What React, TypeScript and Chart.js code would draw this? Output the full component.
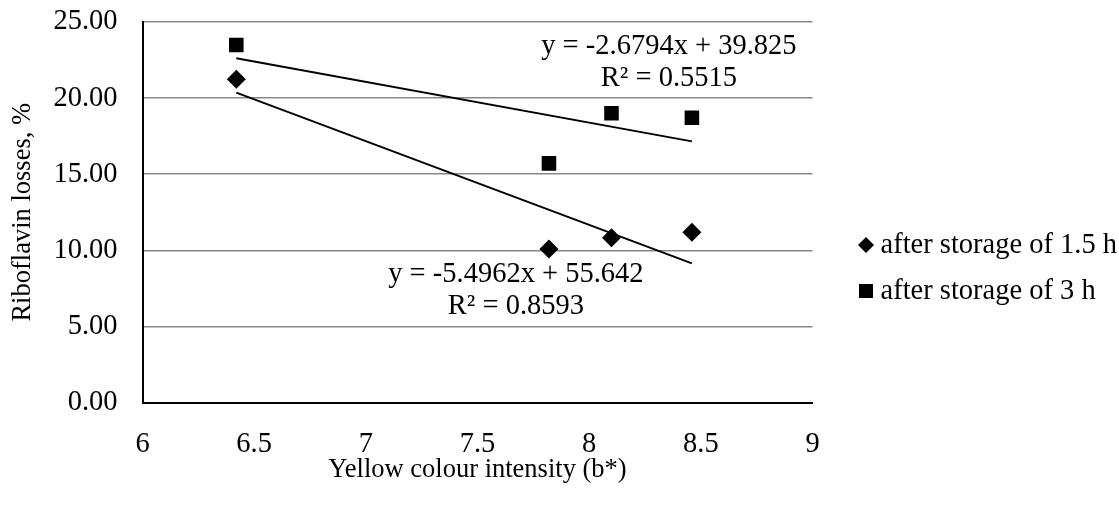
import React, { useEffect, useRef } from "react";
import { Chart, registerables } from "chart.js";

Chart.register(...registerables);

// ---- data ----
const colourIntensity = [6.42, 7.82, 8.1, 8.46];
const losses15h = [21.24, 10.08, 10.82, 11.18];
const losses3h = [23.49, 15.71, 19.0, 18.71];

const seriesNames = ["after storage of 1.5 h", "after storage of 3 h"];

// trendline coefficients (slope, intercept) as shown on the chart
const trendSlopes = [-5.4962, -2.6794];
const trendIntercepts = [55.642, 39.825];
const trendLabels = [
  ["y = -5.4962x + 55.642", "R² = 0.8593"],
  ["y = -2.6794x + 39.825", "R² = 0.5515"],
];
// label anchor (data coordinates)
const trendLabelX = [7.672, 8.357];
const trendLabelY = [8.38, 23.36];

const xTicks = [6, 6.5, 7, 7.5, 8, 8.5, 9];
const yTicks = [0, 5, 10, 15, 20, 25];

const FONT = "'Liberation Serif', 'Times New Roman', serif";
const FS = 28.5;
const FS_TITLE = 26.5;

function trendPoints(i: number) {
  const xmin = Math.min(...colourIntensity);
  const xmax = Math.max(...colourIntensity);
  return [
    { x: xmin, y: trendSlopes[i] * xmin + trendIntercepts[i] },
    { x: xmax, y: trendSlopes[i] * xmax + trendIntercepts[i] },
  ];
}

const annotationPlugin = {
  id: "trendAnnotations",
  afterDatasetsDraw(chart: any) {
    const ctx = chart.ctx;
    const xs = chart.scales.x;
    const ys = chart.scales.y;
    ctx.save();
    ctx.font = `${FS}px ${FONT}`;
    ctx.fillStyle = "#000";
    ctx.textAlign = "center";
    ctx.textBaseline = "middle";
    trendLabels.forEach((lines, i) => {
      const px = xs.getPixelForValue(trendLabelX[i]);
      const py = ys.getPixelForValue(trendLabelY[i]);
      lines.forEach((t, j) => ctx.fillText(t, px, py + j * 32));
    });
    ctx.restore();
  },
};

const legendPlugin = {
  id: "customLegend",
  afterDraw(chart: any) {
    const ctx = chart.ctx;
    const area = chart.chartArea;
    const mx = area.right + 53.5;
    const tx = area.right + 68;
    const y0 = area.top + 223;
    const gap = 46;
    ctx.save();
    ctx.fillStyle = "#000";
    // diamond
    const r = 8;
    ctx.beginPath();
    ctx.moveTo(mx, y0 - r);
    ctx.lineTo(mx + r, y0);
    ctx.lineTo(mx, y0 + r);
    ctx.lineTo(mx - r, y0);
    ctx.closePath();
    ctx.fill();
    // square
    const s = 7;
    ctx.fillRect(mx - s, y0 + gap - s, 2 * s, 2 * s);
    ctx.font = `${FS}px ${FONT}`;
    ctx.textAlign = "left";
    ctx.textBaseline = "middle";
    ctx.fillText(seriesNames[0], tx, y0 + 1);
    ctx.fillText(seriesNames[1], tx, y0 + gap + 1);
    ctx.restore();
  },
};

export default function App() {
  const ref = useRef<HTMLCanvasElement | null>(null);
  useEffect(() => {
    if (!ref.current) return;
    const chart = new Chart(ref.current, {
      type: "scatter",
      data: {
        datasets: [
          {
            label: seriesNames[0],
            data: colourIntensity.map((x, i) => ({ x, y: losses15h[i] })),
            pointStyle: "rectRot",
            pointRadius: 9.5,
            backgroundColor: "#000",
            borderColor: "#000",
            borderWidth: 0,
            order: 0,
          },
          {
            label: seriesNames[1],
            data: colourIntensity.map((x, i) => ({ x, y: losses3h[i] })),
            pointStyle: "rect",
            pointRadius: 10.3,
            backgroundColor: "#000",
            borderColor: "#000",
            borderWidth: 0,
            order: 0,
          },
          {
            type: "line",
            label: "trend 1.5 h",
            data: trendPoints(0),
            borderColor: "#000",
            borderWidth: 2,
            pointRadius: 0,
            showLine: true,
            fill: false,
            order: 1,
          } as any,
          {
            type: "line",
            label: "trend 3 h",
            data: trendPoints(1),
            borderColor: "#000",
            borderWidth: 2,
            pointRadius: 0,
            showLine: true,
            fill: false,
            order: 1,
          } as any,
        ],
      },
      options: {
        animation: false,
        responsive: false,
        events: [],
        layout: { padding: { left: 0, top: 22, right: 306.5, bottom: 0 } },
        plugins: {
          legend: { display: false },
          tooltip: { enabled: false },
          title: { display: false },
        },
        scales: {
          x: {
            type: "linear",
            min: 6,
            max: 9,
            afterBuildTicks(scale: any) {
              scale.ticks = xTicks.map((v) => ({ value: v }));
            },
            afterFit(scale: any) {
              scale.height = 105.5;
              scale.paddingLeft = 0;
              scale.paddingRight = 0;
            },
            grid: { display: false, drawTicks: false },
            border: { display: true, color: "#000", width: 2 },
            ticks: {
              color: "#000",
              font: { family: FONT, size: FS },
              padding: 24.5,
              maxRotation: 0,
              autoSkip: false,
              callback: (v: any) => String(v),
            },
            title: {
              display: true,
              text: "Yellow colour intensity (b*)",
              color: "#000",
              font: { family: FONT, size: FS_TITLE },
              padding: { top: 0, bottom: 22 },
            },
          },
          y: {
            type: "linear",
            min: 0,
            max: 25,
            afterBuildTicks(scale: any) {
              scale.ticks = yTicks.map((v) => ({ value: v }));
            },
            afterFit(scale: any) {
              scale.width = 142.5;
              scale.paddingTop = 0;
              scale.paddingBottom = 0;
            },
            grid: { color: "#878787", lineWidth: 1.5, drawTicks: false },
            border: { display: true, color: "#000", width: 2 },
            ticks: {
              color: "#000",
              font: { family: FONT, size: FS },
              padding: 25,
              callback: (v: any) => Number(v).toFixed(2),
            },
            title: {
              display: true,
              text: "Riboflavin losses, %",
              color: "#000",
              font: { family: FONT, size: FS_TITLE },
              padding: { top: 7, bottom: 0 },
            },
          },
        },
      },
      plugins: [annotationPlugin, legendPlugin],
    } as any);
    return () => chart.destroy();
  }, []);
  return (
    <div style={{ position: "absolute", left: 0, top: 0, width: 1119, height: 508 }}>
      <canvas ref={ref} width={1119} height={508} />
    </div>
  );
}
